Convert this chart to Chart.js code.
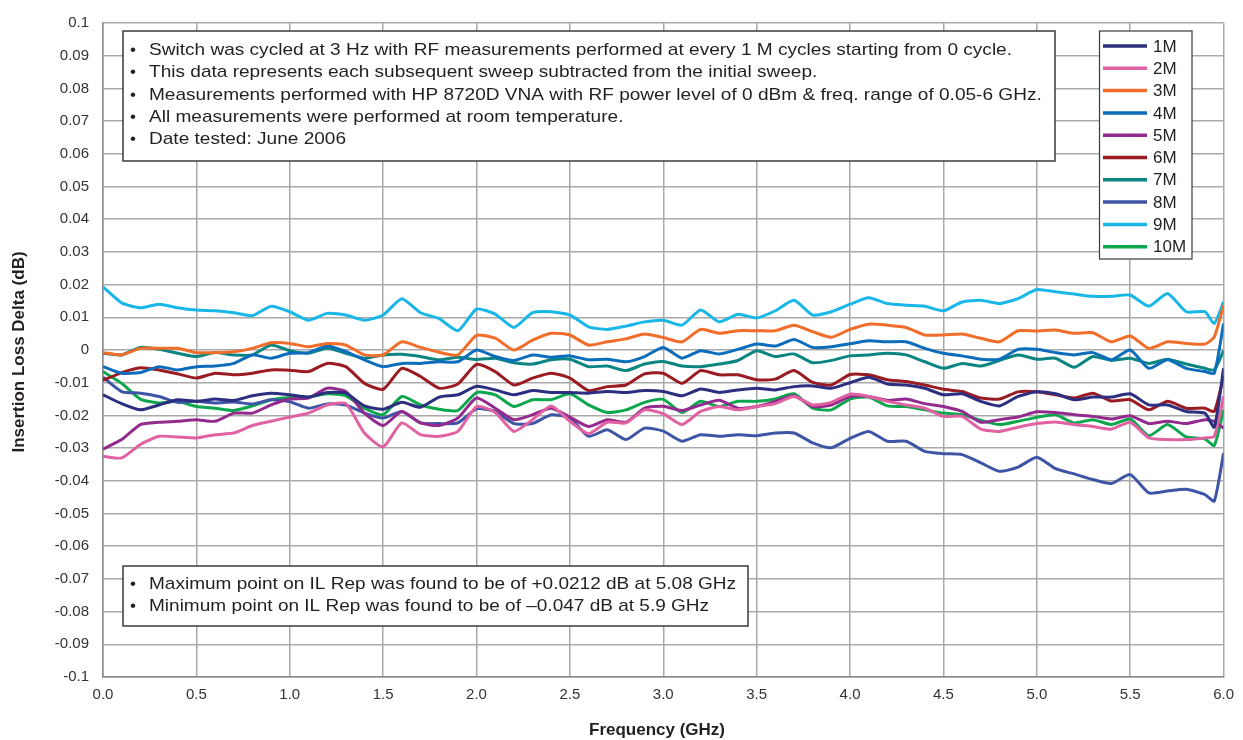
<!DOCTYPE html>
<html><head><meta charset="utf-8">
<script src="https://cdn.jsdelivr.net/npm/chart.js@4.4.1/dist/chart.umd.min.js"></script>
<style>html,body{margin:0;padding:0;background:#fff;}#wrap{width:1243px;height:740px;}</style>
</head><body><div id="wrap"><canvas id="c" width="1243" height="740"></canvas></div>
<script>
const freqGHz = [0.0,0.1,0.2,0.3,0.4,0.5,0.6,0.7,0.8,0.9,1.0,1.1,1.2,1.3,1.4,1.5,1.6,1.7,1.8,1.9,2.0,2.1,2.2,2.3,2.4,2.5,2.6,2.7,2.8,2.9,3.0,3.1,3.2,3.3,3.4,3.5,3.6,3.7,3.8,3.9,4.0,4.1,4.2,4.3,4.4,4.5,4.6,4.7,4.8,4.9,5.0,5.1,5.2,5.3,5.4,5.5,5.6,5.7,5.8,5.9,5.95,6.0];

const seriesNames = ['1M','2M','3M','4M','5M','6M','7M','8M','9M','10M'];

const s1M = [-0.0137,-0.0164,-0.0183,-0.0168,-0.0152,-0.0157,-0.0150,-0.0154,-0.0140,-0.0132,-0.0137,
-0.0144,-0.0130,-0.0132,-0.0171,-0.0181,-0.0160,-0.0175,-0.0144,-0.0137,-0.0111,
-0.0122,-0.0137,-0.0124,-0.0130,-0.0130,-0.0132,-0.0127,-0.0130,-0.0124,-0.0127,
-0.0140,-0.0119,-0.0130,-0.0122,-0.0117,-0.0122,-0.0112,-0.0110,-0.0117,-0.0100,
-0.0083,-0.0104,-0.0107,-0.0117,-0.0137,-0.0134,-0.0157,-0.0171,-0.0142,-0.0128,
-0.0134,-0.0152,-0.0144,-0.0144,-0.0134,-0.0168,-0.0168,-0.0188,-0.0193,-0.0236,-0.0056];

const s2M = [-0.0325,-0.0330,-0.0289,-0.0264,-0.0266,-0.0269,-0.0259,-0.0254,-0.0231,-0.0218,-0.0205,
-0.0193,-0.0168,-0.0164,-0.0254,-0.0296,-0.0223,-0.0259,-0.0264,-0.0249,-0.0173,
-0.0191,-0.0249,-0.0213,-0.0171,-0.0218,-0.0256,-0.0221,-0.0223,-0.0183,-0.0195,
-0.0228,-0.0188,-0.0173,-0.0183,-0.0173,-0.0164,-0.0142,-0.0168,-0.0160,-0.0135,
-0.0142,-0.0157,-0.0168,-0.0178,-0.0203,-0.0203,-0.0242,-0.0249,-0.0236,-0.0225,
-0.0220,-0.0228,-0.0234,-0.0242,-0.0221,-0.0269,-0.0274,-0.0274,-0.0269,-0.0264,-0.0142];

const s3M = [-0.0008,-0.0015,0.0005,0.0005,0.0005,-0.0008,-0.0008,-0.0005,0.0005,0.0022,0.0020,
0.0010,0.0020,0.0015,-0.0015,-0.0015,0.0025,0.0008,-0.0007,-0.0015,0.0045,
0.0036,0.0000,0.0030,0.0051,0.0046,0.0015,0.0025,0.0034,0.0049,0.0038,
0.0025,0.0063,0.0051,0.0059,0.0059,0.0059,0.0076,0.0056,0.0039,0.0063,
0.0079,0.0076,0.0069,0.0046,0.0046,0.0049,0.0036,0.0025,0.0059,0.0058,
0.0061,0.0051,0.0053,0.0025,0.0043,0.0005,0.0025,0.0020,0.0018,0.0040,0.0137];

const s4M = [-0.0051,-0.0071,-0.0069,-0.0051,-0.0061,-0.0051,-0.0049,-0.0041,-0.0015,-0.0025,-0.0010,
-0.0008,0.0012,-0.0005,-0.0030,-0.0051,-0.0041,-0.0041,-0.0036,-0.0036,0.0000,
-0.0020,-0.0032,-0.0015,-0.0022,-0.0018,-0.0030,-0.0028,-0.0036,-0.0020,0.0008,
-0.0025,-0.0002,-0.0012,0.0002,0.0018,0.0012,0.0032,0.0008,0.0010,0.0019,
0.0028,0.0025,0.0025,0.0005,-0.0010,-0.0018,-0.0028,-0.0028,0.0002,0.0002,
-0.0008,-0.0015,-0.0008,-0.0030,0.0000,-0.0056,-0.0030,-0.0056,-0.0066,-0.0071,0.0081];

const s5M = [-0.0303,-0.0274,-0.0228,-0.0221,-0.0218,-0.0213,-0.0218,-0.0193,-0.0193,-0.0168,-0.0150,
-0.0147,-0.0117,-0.0127,-0.0193,-0.0231,-0.0188,-0.0223,-0.0231,-0.0208,-0.0147,
-0.0178,-0.0213,-0.0198,-0.0178,-0.0205,-0.0234,-0.0213,-0.0221,-0.0178,-0.0172,
-0.0185,-0.0168,-0.0154,-0.0178,-0.0173,-0.0157,-0.0140,-0.0173,-0.0168,-0.0142,
-0.0142,-0.0154,-0.0150,-0.0164,-0.0173,-0.0188,-0.0221,-0.0213,-0.0205,-0.0189,
-0.0191,-0.0198,-0.0203,-0.0211,-0.0201,-0.0225,-0.0218,-0.0225,-0.0213,-0.0218,-0.0239];

const s6M = [-0.0093,-0.0069,-0.0054,-0.0061,-0.0073,-0.0086,-0.0071,-0.0076,-0.0071,-0.0061,-0.0062,
-0.0066,-0.0041,-0.0051,-0.0102,-0.0120,-0.0056,-0.0081,-0.0117,-0.0104,-0.0044,
-0.0066,-0.0107,-0.0086,-0.0071,-0.0086,-0.0124,-0.0112,-0.0107,-0.0073,-0.0071,
-0.0102,-0.0063,-0.0076,-0.0076,-0.0091,-0.0089,-0.0063,-0.0099,-0.0107,-0.0075,
-0.0076,-0.0091,-0.0096,-0.0107,-0.0120,-0.0127,-0.0147,-0.0150,-0.0128,-0.0128,
-0.0137,-0.0147,-0.0132,-0.0156,-0.0152,-0.0183,-0.0157,-0.0178,-0.0178,-0.0188,-0.0081];

const s7M = [-0.0010,-0.0015,0.0008,0.0002,-0.0010,-0.0020,-0.0008,-0.0015,-0.0015,0.0015,-0.0002,
-0.0010,0.0005,-0.0010,-0.0025,-0.0015,-0.0013,-0.0020,-0.0030,-0.0022,-0.0029,
-0.0025,-0.0039,-0.0043,-0.0030,-0.0028,-0.0051,-0.0049,-0.0063,-0.0043,-0.0035,
-0.0049,-0.0051,-0.0043,-0.0032,-0.0002,-0.0020,-0.0012,-0.0039,-0.0032,-0.0018,
-0.0015,-0.0010,-0.0015,-0.0036,-0.0056,-0.0041,-0.0049,-0.0032,-0.0015,-0.0028,
-0.0025,-0.0053,-0.0020,-0.0032,-0.0025,-0.0041,-0.0028,-0.0043,-0.0056,-0.0061,-0.0002];

const s8M = [-0.0083,-0.0127,-0.0132,-0.0142,-0.0160,-0.0157,-0.0162,-0.0159,-0.0165,-0.0152,-0.0158,
-0.0178,-0.0165,-0.0168,-0.0193,-0.0208,-0.0188,-0.0223,-0.0225,-0.0223,-0.0180,
-0.0188,-0.0225,-0.0225,-0.0198,-0.0208,-0.0264,-0.0244,-0.0274,-0.0239,-0.0248,
-0.0279,-0.0259,-0.0264,-0.0259,-0.0262,-0.0254,-0.0254,-0.0284,-0.0299,-0.0270,
-0.0249,-0.0279,-0.0279,-0.0310,-0.0317,-0.0320,-0.0345,-0.0371,-0.0358,-0.0328,
-0.0363,-0.0379,-0.0396,-0.0408,-0.0381,-0.0437,-0.0431,-0.0426,-0.0442,-0.0462,-0.0315];

const s9M = [0.0193,0.0144,0.0129,0.0140,0.0129,0.0122,0.0120,0.0114,0.0105,0.0134,0.0117,
0.0091,0.0112,0.0107,0.0091,0.0107,0.0157,0.0114,0.0096,0.0059,0.0125,
0.0110,0.0069,0.0114,0.0117,0.0107,0.0071,0.0063,0.0073,0.0086,0.0091,
0.0076,0.0122,0.0086,0.0109,0.0098,0.0120,0.0152,0.0107,0.0117,0.0140,
0.0160,0.0142,0.0137,0.0134,0.0120,0.0147,0.0152,0.0142,0.0157,0.0185,
0.0178,0.0171,0.0164,0.0164,0.0168,0.0134,0.0173,0.0117,0.0117,0.0081,0.0147];

const s10M = [-0.0066,-0.0102,-0.0150,-0.0162,-0.0157,-0.0173,-0.0178,-0.0185,-0.0171,-0.0152,-0.0145,
-0.0144,-0.0134,-0.0140,-0.0178,-0.0198,-0.0142,-0.0168,-0.0181,-0.0185,-0.0130,
-0.0137,-0.0173,-0.0152,-0.0152,-0.0134,-0.0168,-0.0191,-0.0183,-0.0160,-0.0151,
-0.0191,-0.0157,-0.0173,-0.0157,-0.0157,-0.0150,-0.0134,-0.0178,-0.0183,-0.0150,
-0.0144,-0.0171,-0.0173,-0.0183,-0.0193,-0.0198,-0.0215,-0.0228,-0.0218,-0.0206,
-0.0198,-0.0223,-0.0213,-0.0228,-0.0211,-0.0262,-0.0228,-0.0266,-0.0272,-0.0292,-0.0183];

const xTickValues = [0,0.5,1,1.5,2,2.5,3,3.5,4,4.5,5,5.5,6];
const xTickLabels = ['0.0','0.5','1.0','1.5','2.0','2.5','3.0','3.5','4.0','4.5','5.0','5.5','6.0'];
const yTickValues = [-0.1,-0.09,-0.08,-0.07,-0.06,-0.05,-0.04,-0.03,-0.02,-0.01,0,0.01,0.02,0.03,0.04,0.05,0.06,0.07,0.08,0.09,0.1];
const yTickLabels = ['-0.1','-0.09','-0.08','-0.07','-0.06','-0.05','-0.04','-0.03','-0.02','-0.01','0','0.01','0.02','0.03','0.04','0.05','0.06','0.07','0.08','0.09','0.1'];

const xTitle = 'Frequency (GHz)';
const yTitle = 'Insertion Loss Delta (dB)';
const noteLines = [
 'Switch was cycled at 3 Hz with RF measurements performed at every 1 M cycles starting from 0 cycle.',
 'This data represents each subsequent sweep subtracted from the initial sweep.',
 'Measurements performed with HP 8720D VNA with RF power level of 0 dBm & freq. range of 0.05-6 GHz.',
 'All measurements were performed at room temperature.',
 'Date tested: June 2006'
];
const extremeLines = [
 'Maximum point on IL Rep was found to be of +0.0212 dB at 5.08 GHz',
 'Minimum point on IL Rep was found to be of \u20130.047 dB at 5.9 GHz'
];

const seriesValues = [s1M,s2M,s3M,s4M,s5M,s6M,s7M,s8M,s9M,s10M];
const seriesColors = ['#2c2f7f','#e062a3','#f26c2a','#0b6dbb','#932a8e','#9b1b22','#0b8582','#3e55a6','#19b6e8','#0ca74c'];

const FONT = '"Liberation Sans", Arial, Helvetica, sans-serif';
const TEXT = '#231f20';

function stretchText(ctx, text, x, y, sx){
  ctx.save(); ctx.translate(x,y); ctx.scale(sx,1); ctx.fillText(text,0,0); ctx.restore();
}

const overlay = {
  id:'overlay',
  afterDraw(chart){
    const ctx = chart.ctx;
    ctx.save();
    // note box
    ctx.fillStyle='#fff'; ctx.strokeStyle='#3a3a3a'; ctx.lineWidth=1.5;
    ctx.fillRect(123,31,932,130); ctx.strokeRect(123,31,932,130);
    ctx.font='17px '+FONT; ctx.fillStyle=TEXT; ctx.textBaseline='alphabetic'; ctx.textAlign='left';
    let sx = 863/ctx.measureText(noteLines[0]).width;
    noteLines.forEach((t,i)=>{
      const y = 55 + i*22.3;
      ctx.fillText('\u2022',130,y);
      stretchText(ctx,t,149,y,sx);
    });
    // extremes box
    ctx.fillStyle='#fff';
    ctx.fillRect(123,566,625,60); ctx.strokeRect(123,566,625,60);
    ctx.fillStyle=TEXT;
    sx = 587/ctx.measureText(extremeLines[0]).width;
    extremeLines.forEach((t,i)=>{
      const y = 588.5 + i*22.7;
      ctx.fillText('\u2022',130,y);
      stretchText(ctx,t,149,y,sx);
    });
    // legend
    ctx.fillStyle='#fff'; ctx.lineWidth=1.2; ctx.strokeStyle='#3a3a3a';
    ctx.fillRect(1099.5,31,92.5,228); ctx.strokeRect(1099.5,31,92.5,228);
    chart.data.datasets.forEach((ds,i)=>{
      const y = 46 + i*22.3;
      ctx.strokeStyle=ds.borderColor; ctx.lineWidth=3.5;
      ctx.beginPath(); ctx.moveTo(1103,y); ctx.lineTo(1147,y); ctx.stroke();
      ctx.fillStyle=TEXT; ctx.font='17px '+FONT; ctx.textBaseline='middle';
      ctx.fillText(ds.label,1153,y+1);
    });
    // axis titles
    ctx.fillStyle=TEXT; ctx.font='bold 17px '+FONT; ctx.textAlign='center'; ctx.textBaseline='middle';
    let w = ctx.measureText(xTitle).width;
    stretchText(ctx,xTitle,657,730,1);
    ctx.save(); ctx.translate(19,352); ctx.rotate(-Math.PI/2);
    ctx.fillText(yTitle,0,0);
    ctx.restore();
    ctx.restore();
  }
};

const ctx = document.getElementById('c').getContext('2d');
new Chart(ctx,{
  type:'line',
  data:{datasets: seriesValues.map((vals,i)=>({
    label: seriesNames[i],
    data: freqGHz.map((f,j)=>({x:f,y:vals[j]})),
    borderColor: seriesColors[i],
    backgroundColor: seriesColors[i],
    borderWidth: 3,
    pointRadius: 0,
    tension: 0.2,
    fill: false
  }))},
  options:{
    responsive:false, animation:false, devicePixelRatio:1,
    layout:{padding:{left:0,right:19,top:20,bottom:0}},
    plugins:{legend:{display:false}, tooltip:{enabled:false}},
    scales:{
      x:{type:'linear', min:0, max:6,
        afterFit(s){ s.height = 63; },
        afterBuildTicks(s){ s.ticks = xTickValues.map(v=>({value:v})); },
        grid:{color:'#a9a9a9', lineWidth:1.5, drawTicks:false},
        border:{color:'#8a8a8a', width:1.5},
        ticks:{padding:9, color:'#333', autoSkip:false, maxRotation:0,
          font:{family:FONT, size:15},
          callback:(v,i)=>xTickLabels[i]}
      },
      y:{type:'linear', min:-0.1, max:0.1,
        afterFit(s){ s.width = 103; },
        afterBuildTicks(s){ s.ticks = yTickValues.map(v=>({value:v})); },
        grid:{color:'#a9a9a9', lineWidth:1.5, drawTicks:false},
        border:{color:'#8a8a8a', width:1.5},
        ticks:{padding:14, color:'#333', autoSkip:false,
          font:{family:FONT, size:15},
          callback:(v,i)=>yTickLabels[i]}
      }
    }
  },
  plugins:[overlay]
});
</script></body></html>
